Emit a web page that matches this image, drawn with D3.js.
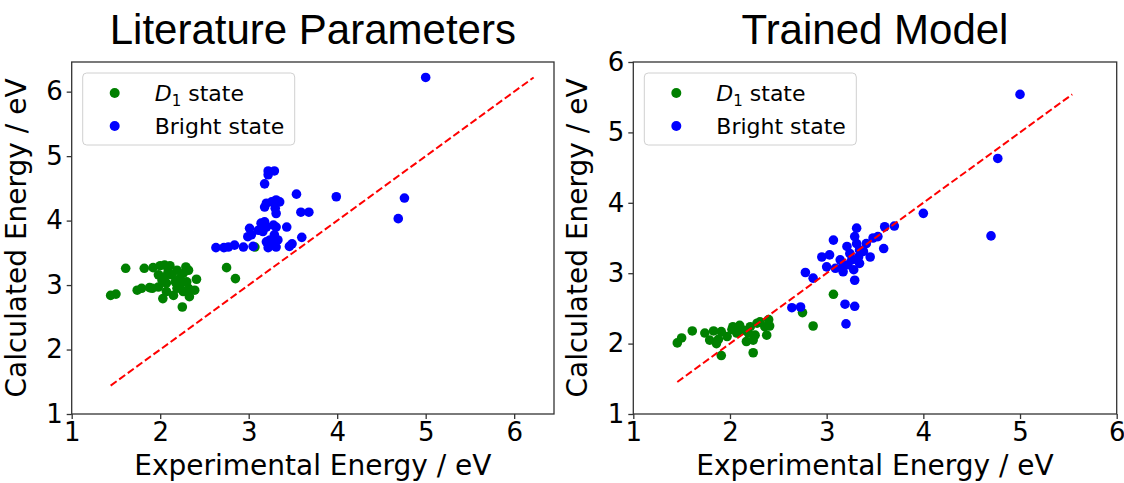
<!DOCTYPE html>
<html>
<head>
<meta charset="utf-8">
<script src="https://cdn.jsdelivr.net/npm/d3@7"></script>
<style>
  body { margin: 0; background: #fff; }
  svg { display: block; }
</style>
</head>
<body>
<div id="chart"></div>
<script>
// literature parameters panel
const litD1X = [1.44, 1.50, 1.61, 1.82, 1.74, 1.79, 1.88, 1.91, 1.92, 2.00, 2.05, 2.11, 2.29, 2.32, 2.41, 2.39,
  2.03, 2.25, 2.75, 2.85, 3.07, 1.98, 2.02, 2.07, 2.13, 2.17, 2.22, 2.07, 2.19, 2.26, 2.15, 2.22, 2.30, 1.98,
  2.09, 2.19, 2.26, 2.05, 2.32, 2.33];
const litD1Y = [2.84, 2.86, 3.26, 3.26, 2.92, 2.95, 2.96, 2.95, 3.27, 3.30, 3.31, 3.30, 3.28, 3.23, 3.09, 2.92,
  2.79, 2.66, 3.27, 3.10, 3.59, 3.16, 3.08, 3.03, 3.16, 3.05, 3.10, 2.90, 2.95, 2.90, 2.84, 3.00, 3.05, 2.97,
  3.21, 3.23, 3.18, 3.13, 2.95, 2.82];
const litBrightX = [2.63, 2.72, 2.77, 2.84, 2.94, 3.05, 3.01, 3.03, 2.99, 3.14, 3.18, 3.20, 3.16, 3.11, 3.24,
  3.20, 3.26, 3.31, 3.22, 3.33, 3.29, 3.31, 3.28, 3.43, 3.60, 3.46, 3.49, 3.20, 3.26, 3.31, 3.35, 3.30, 3.31,
  3.18, 3.54, 3.59, 3.68, 3.22, 3.29, 3.22, 3.18, 3.99, 4.76, 4.69, 5.00];
const litBrightY = [3.58, 3.58, 3.59, 3.62, 3.59, 3.60, 3.88, 3.78, 3.75, 3.96, 3.98, 3.90, 3.83, 3.85, 3.70,
  3.67, 3.62, 3.59, 3.58, 3.70, 3.78, 3.90, 3.93, 3.90, 3.74, 3.60, 3.64, 4.27, 4.29, 4.32, 4.29, 4.19, 4.11,
  4.21, 4.41, 4.13, 4.13, 4.77, 4.77, 4.71, 4.57, 4.37, 4.35, 4.03, 6.22];

// trained model panel
const trainD1X = [1.455, 1.50, 1.61, 1.74, 1.83, 1.79, 1.88, 1.91, 1.97, 2.02, 2.10, 2.07, 2.14, 2.19, 2.17,
  2.24, 2.26, 2.28, 2.31, 2.36, 2.40, 2.41, 2.38, 2.24, 1.91, 1.86, 2.21, 2.03, 2.75, 2.86, 3.07];
const trainD1Y = [2.01, 2.08, 2.18, 2.15, 2.18, 2.05, 2.06, 2.17, 2.10, 2.20, 2.26, 2.15, 2.19, 2.15, 2.03,
  2.05, 2.12, 2.29, 2.31, 2.24, 2.34, 2.25, 2.12, 1.87, 1.83, 2.00, 2.24, 2.24, 2.44, 2.25, 2.70];
const trainBrightX = [2.64, 2.73, 3.20, 3.19, 3.29, 2.78, 2.86, 3.07, 2.95, 3.03, 3.00, 3.09, 3.14, 3.17, 3.21,
  3.24, 3.31, 3.29, 3.31, 3.34, 3.34, 3.28, 3.29, 3.17, 3.26, 3.22, 3.33, 3.38, 3.41, 3.48, 3.53, 3.60, 3.59,
  3.45, 3.70, 4.00, 4.70, 4.77, 5.00];
const trainBrightY = [2.51, 2.52, 2.28, 2.56, 2.53, 3.01, 2.93, 3.47, 3.23, 3.26, 3.09, 3.07, 3.19, 3.12, 3.38,
  3.28, 3.64, 3.52, 3.42, 3.33, 3.14, 3.05, 2.90, 3.02, 3.19, 3.12, 3.23, 3.31, 3.42, 3.50, 3.52, 3.66, 3.35,
  3.23, 3.67, 3.85, 3.53, 4.63, 5.54];

const tickValues = [1, 2, 3, 4, 5, 6];
const legendLabels = ['state', 'Bright state'];

const width = 1124, height = 483;
const svg = d3.select('#chart').append('svg')
    .attr('width', width)
    .attr('height', height);

const panels = [
    { title: 'Literature Parameters', left: 71.7, right: 554, xMax: 6.45, yMax: 6.46,
      d1x: litD1X, d1y: litD1Y, bx: litBrightX, by: litBrightY },
    { title: 'Trained Model', left: 633.3, right: 1116.7, xMax: 6, yMax: 6,
      d1x: trainD1X, d1y: trainD1Y, bx: trainBrightX, by: trainBrightY }
];
const plotTop = 62, plotBottom = 414;
const tickFont = 'DejaVu Sans, sans-serif';

panels.forEach(p => {
    const x = d3.scaleLinear().domain([1, p.xMax]).range([p.left, p.right]);
    const y = d3.scaleLinear().domain([1, p.yMax]).range([plotBottom, plotTop]);
    const g = svg.append('g');

    // points
    g.append('g').selectAll('circle')
        .data(p.d1x.map((v, i) => [v, p.d1y[i]]))
        .join('circle')
        .attr('cx', d => x(d[0]))
        .attr('cy', d => y(d[1]))
        .attr('r', 4.8)
        .attr('fill', 'green');
    g.append('g').selectAll('circle')
        .data(p.bx.map((v, i) => [v, p.by[i]]))
        .join('circle')
        .attr('cx', d => x(d[0]))
        .attr('cy', d => y(d[1]))
        .attr('r', 4.8)
        .attr('fill', 'blue');

    // y = x reference line
    const all = p.d1x.concat(p.d1y, p.bx, p.by);
    const ext = d3.extent(all);
    g.append('line')
        .attr('x1', x(ext[0])).attr('y1', y(ext[0]))
        .attr('x2', x(ext[1])).attr('y2', y(ext[1]))
        .attr('stroke', 'red')
        .attr('stroke-width', 2)
        .attr('stroke-dasharray', '7.4,3.2');

    // frame
    g.append('rect')
        .attr('x', p.left).attr('y', plotTop)
        .attr('width', p.right - p.left).attr('height', plotBottom - plotTop)
        .attr('fill', 'none')
        .attr('stroke', '#333')
        .attr('stroke-width', 1.3);

    const xAxis = g.append('g')
        .attr('transform', 'translate(0,' + plotBottom + ')')
        .call(d3.axisBottom(x).tickValues(tickValues).tickSize(5).tickPadding(4).tickFormat(d3.format('d')));
    const yAxis = g.append('g')
        .attr('transform', 'translate(' + p.left + ',0)')
        .call(d3.axisLeft(y).tickValues(tickValues).tickSize(5).tickPadding(4).tickFormat(d3.format('d')));
    [xAxis, yAxis].forEach(a => {
        a.select('.domain').remove();
        a.selectAll('line').attr('stroke', '#333').attr('stroke-width', 1.3);
        a.selectAll('text')
            .attr('fill', '#000')
            .style('font-family', tickFont)
            .style('font-size', '26px');
    });

    // title and axis labels
    g.append('text')
        .attr('x', (p.left + p.right) / 2)
        .attr('y', 44)
        .attr('text-anchor', 'middle')
        .style('font-family', 'Liberation Sans, Arial, sans-serif')
        .style('font-size', '42px')
        .text(p.title);
    g.append('text')
        .attr('x', (p.left + p.right) / 2)
        .attr('y', 475)
        .attr('text-anchor', 'middle')
        .style('font-family', tickFont)
        .style('font-size', '28px')
        .text('Experimental Energy / eV');
    g.append('text')
        .attr('transform', 'translate(' + (p.left - 46) + ',' + ((plotTop + plotBottom) / 2) + ') rotate(-90)')
        .attr('text-anchor', 'middle')
        .style('font-family', tickFont)
        .style('font-size', '28px')
        .text('Calculated Energy / eV');

    // legend
    const lg = g.append('g').attr('transform', 'translate(' + (p.left + 11) + ',73)');
    lg.append('rect')
        .attr('width', 212).attr('height', 72)
        .attr('rx', 4)
        .attr('fill', 'white').attr('fill-opacity', 0.8)
        .attr('stroke', '#d0d0d0');
    const colors = ['green', 'blue'];
    colors.forEach((c, i) => {
        const yy = 20 + i * 33;
        lg.append('circle').attr('cx', 32).attr('cy', yy).attr('r', 5).attr('fill', c);
        const t = lg.append('text')
            .attr('x', 72).attr('y', yy + 8)
            .style('font-family', tickFont)
            .style('font-size', '22px');
        if (i === 0) {
            t.append('tspan').style('font-style', 'italic').text('D');
            t.append('tspan').attr('dy', 5).style('font-size', '15px').text('1');
            t.append('tspan').attr('dy', -5).text(' ' + legendLabels[0]);
        } else {
            t.text(legendLabels[1]);
        }
    });
});
</script>
</body>
</html>
